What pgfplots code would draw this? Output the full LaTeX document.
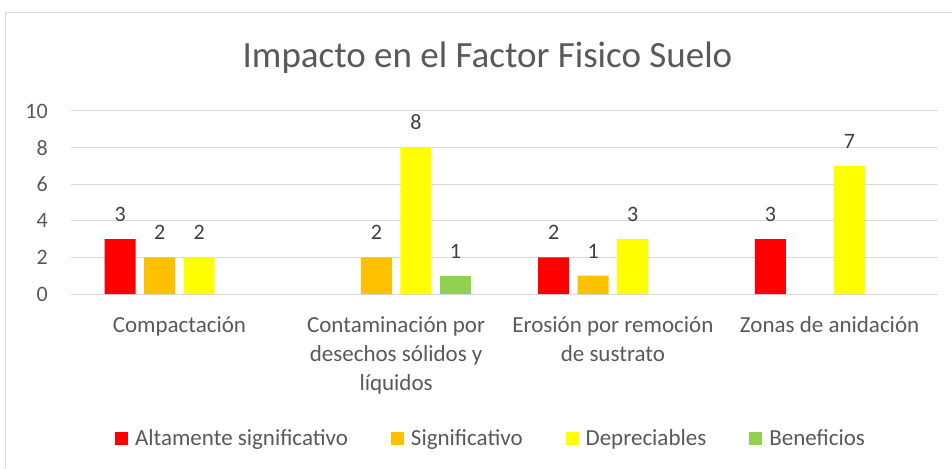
\documentclass[border=0pt]{standalone}
\usepackage{fontspec}
\setmainfont{Carlito}
\usepackage{pgfplots}
\pgfplotsset{compat=1.18}

\definecolor{cRed}{HTML}{FF0000}
\definecolor{cOrange}{HTML}{FFC000}
\definecolor{cYellow}{HTML}{FFFF00}
\definecolor{cGreen}{HTML}{92D050}
\definecolor{txt}{HTML}{595959}
\definecolor{lbl}{HTML}{404040}
\definecolor{gridc}{HTML}{D9D9D9}

\pgfplotsset{
  sq/.style={fill=#1, draw=none,
    legend image code/.code={\fill[#1] (0pt,-6.5pt) rectangle (13pt,6.5pt);}},
}

\begin{document}
\begin{tikzpicture}
\begin{axis}[
  name=ax,
  scale only axis,
  width=867pt, height=183pt,
  ybar=8.5pt, bar width=31pt,
  xmin=-0.5, xmax=3.5,
  ymin=0, ymax=10,
  xtick={0,1,2,3},
  xticklabels={Compactación, {Contaminación por\\desechos sólidos y\\líquidos},
               {Erosión por remoción\\de sustrato}, Zonas de anidación},
  ytick={0,2,4,6,8,10},
  major tick length=0pt,
  axis line style={draw=none},
  ymajorgrids,
  grid style={gridc, line width=1pt},
  /pgf/number format/assume math mode=true,
  yticklabel style={font=\fontsize{22}{26}\selectfont, text=txt, xshift=-20pt, inner sep=3pt},
  xticklabel style={font=\fontsize{23}{29}\selectfont, text=txt, align=center, yshift=-19pt},
  nodes near coords,
  every node near coord/.append style={font=\fontsize{22}{26}\selectfont, text=lbl, yshift=14pt},
  legend columns=4,
  legend style={draw=none, fill=none, at={(0.4844,-0.7896)}, anchor=center,
    font=\fontsize{23}{27}\selectfont, text=txt,
    /tikz/every odd column/.append style={column sep=5pt},
    /tikz/every even column/.append style={column sep=41pt}},
]
\addplot[sq=cRed] coordinates {(0,3) (2,2) (3,3)};
\addplot[sq=cOrange] coordinates {(0,2) (1,2) (2,1)};
\addplot[sq=cYellow] coordinates {(0,2) (1,8) (2,3) (3,7)};
\addplot[sq=cGreen] coordinates {(1,1)};
\legend{Altamente significativo, Significativo, Depreciables, Beneficios}
\end{axis}
\pgfresetboundingbox
\coordinate (o) at ([shift={(-71pt,-174pt)}]ax.south west);
\path[use as bounding box] (o) rectangle ([shift={(952pt,468pt)}]o);
% chart frame (only top and left edges are visible)
\draw[gridc, line width=1pt] ([shift={(6pt,0pt)}]o) -- ([shift={(6pt,455.5pt)}]o) -- ([shift={(952pt,455.5pt)}]o);
\node[anchor=base, text=txt, font=\fontsize{37}{44}\selectfont]
  at ([shift={(487.5pt,400pt)}]o) {Impacto en el Factor Fisico Suelo};
\end{tikzpicture}
\end{document}
